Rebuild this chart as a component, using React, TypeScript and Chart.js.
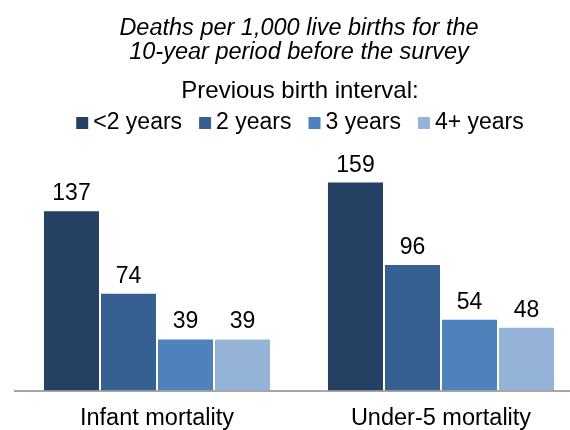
import React, { useEffect, useRef } from "react";
import { Chart, registerables } from "chart.js";

Chart.register(...registerables);

// ---- data ----
const categories = ["Infant mortality", "Under-5 mortality"];
const seriesNames = ["<2 years", "2 years", "3 years", "4+ years"];
const lessThan2Years = [137, 159];
const twoYears = [74, 96];
const threeYears = [39, 54];
const fourPlusYears = [39, 48];
const seriesColors = ["#244062", "#366092", "#4F81BD", "#95B3D7"];
const titleLines = ["Deaths per 1,000 live births for the", "10-year period before the survey"];
const legendTitle = "Previous birth interval:";

const FONT = '"Liberation Sans", Arial, Helvetica, sans-serif';

const valueLabelPlugin = {
  id: "valueLabels",
  afterDatasetsDraw(chart: any) {
    const ctx = chart.ctx;
    ctx.save();
    ctx.font = `23px ${FONT}`;
    ctx.fillStyle = "#000000";
    ctx.textAlign = "center";
    ctx.textBaseline = "alphabetic";
    chart.data.datasets.forEach((ds: any, i: number) => {
      const meta = chart.getDatasetMeta(i);
      meta.data.forEach((el: any, j: number) => {
        ctx.fillText(String(ds.data[j]), el.x, el.y - 11);
      });
    });
    ctx.restore();
  },
};

const legendPlugin = {
  id: "customLegend",
  afterDraw(chart: any) {
    const ctx = chart.ctx;
    const cx = chart.width / 2;
    ctx.save();
    ctx.fillStyle = "#000000";
    ctx.textBaseline = "middle";
    ctx.textAlign = "center";
    ctx.font = `24px ${FONT}`;
    ctx.fillText(legendTitle, cx, 91);
    ctx.font = `23px ${FONT}`;
    const box = 12;
    const gap = 5;
    const itemGap = 17;
    const items = chart.data.datasets.map((ds: any) => ({
      text: ds.label,
      color: ds.backgroundColor,
      w: ctx.measureText(ds.label).width,
    }));
    const total =
      items.reduce((s: number, it: any) => s + box + gap + it.w, 0) +
      itemGap * (items.length - 1);
    let x = cx - total / 2;
    ctx.textAlign = "left";
    items.forEach((it: any) => {
      ctx.fillStyle = it.color;
      ctx.fillRect(x, 117, box, box);
      ctx.fillStyle = "#000000";
      ctx.fillText(it.text, x + box + gap, 122.5);
      x += box + gap + it.w + itemGap;
    });
    ctx.restore();
  },
};

export default function App() {
  const canvasRef = useRef<HTMLCanvasElement | null>(null);

  useEffect(() => {
    document.documentElement.style.overflow = "hidden";
    document.body.style.overflow = "hidden";
    const canvas = canvasRef.current;
    if (!canvas) return;
    const seriesValues = [lessThan2Years, twoYears, threeYears, fourPlusYears];
    const chart = new Chart(canvas, {
      type: "bar",
      data: {
        labels: categories,
        datasets: seriesNames.map((name, i) => ({
          label: name,
          data: seriesValues[i],
          backgroundColor: seriesColors[i],
          borderWidth: 0,
          categoryPercentage: 0.803,
          barPercentage: 0.965,
        })),
      },
      options: {
        animation: false,
        responsive: false,
        layout: { padding: { left: 15, right: 17, top: 0, bottom: 0 } },
        plugins: {
          legend: { display: false },
          tooltip: { enabled: false },
          title: {
            display: true,
            text: titleLines,
            color: "#000000",
            font: { family: FONT, size: 23.5, style: "italic", weight: "normal", lineHeight: 1.0 },
            padding: { top: 17, bottom: 78 },
          },
        },
        scales: {
          x: {
            grid: { display: false, drawTicks: false },
            border: { display: true, color: "#A6A6A6", width: 2 },
            ticks: {
              color: "#000000",
              padding: 16,
              font: { family: FONT, size: 23.5, lineHeight: 1.0 },
            },
          },
          y: {
            display: false,
            min: 0,
            max: 190,
          },
        },
      },
      plugins: [valueLabelPlugin, legendPlugin],
    });
    return () => chart.destroy();
  }, []);

  return (
    <div
      style={{
        position: "fixed",
        left: 0,
        top: 0,
        width: 570,
        height: 430,
        overflow: "hidden",
        background: "#ffffff",
      }}
    >
      <canvas ref={canvasRef} width={600} height={446} style={{ width: 600, height: 446 }} />
    </div>
  );
}
